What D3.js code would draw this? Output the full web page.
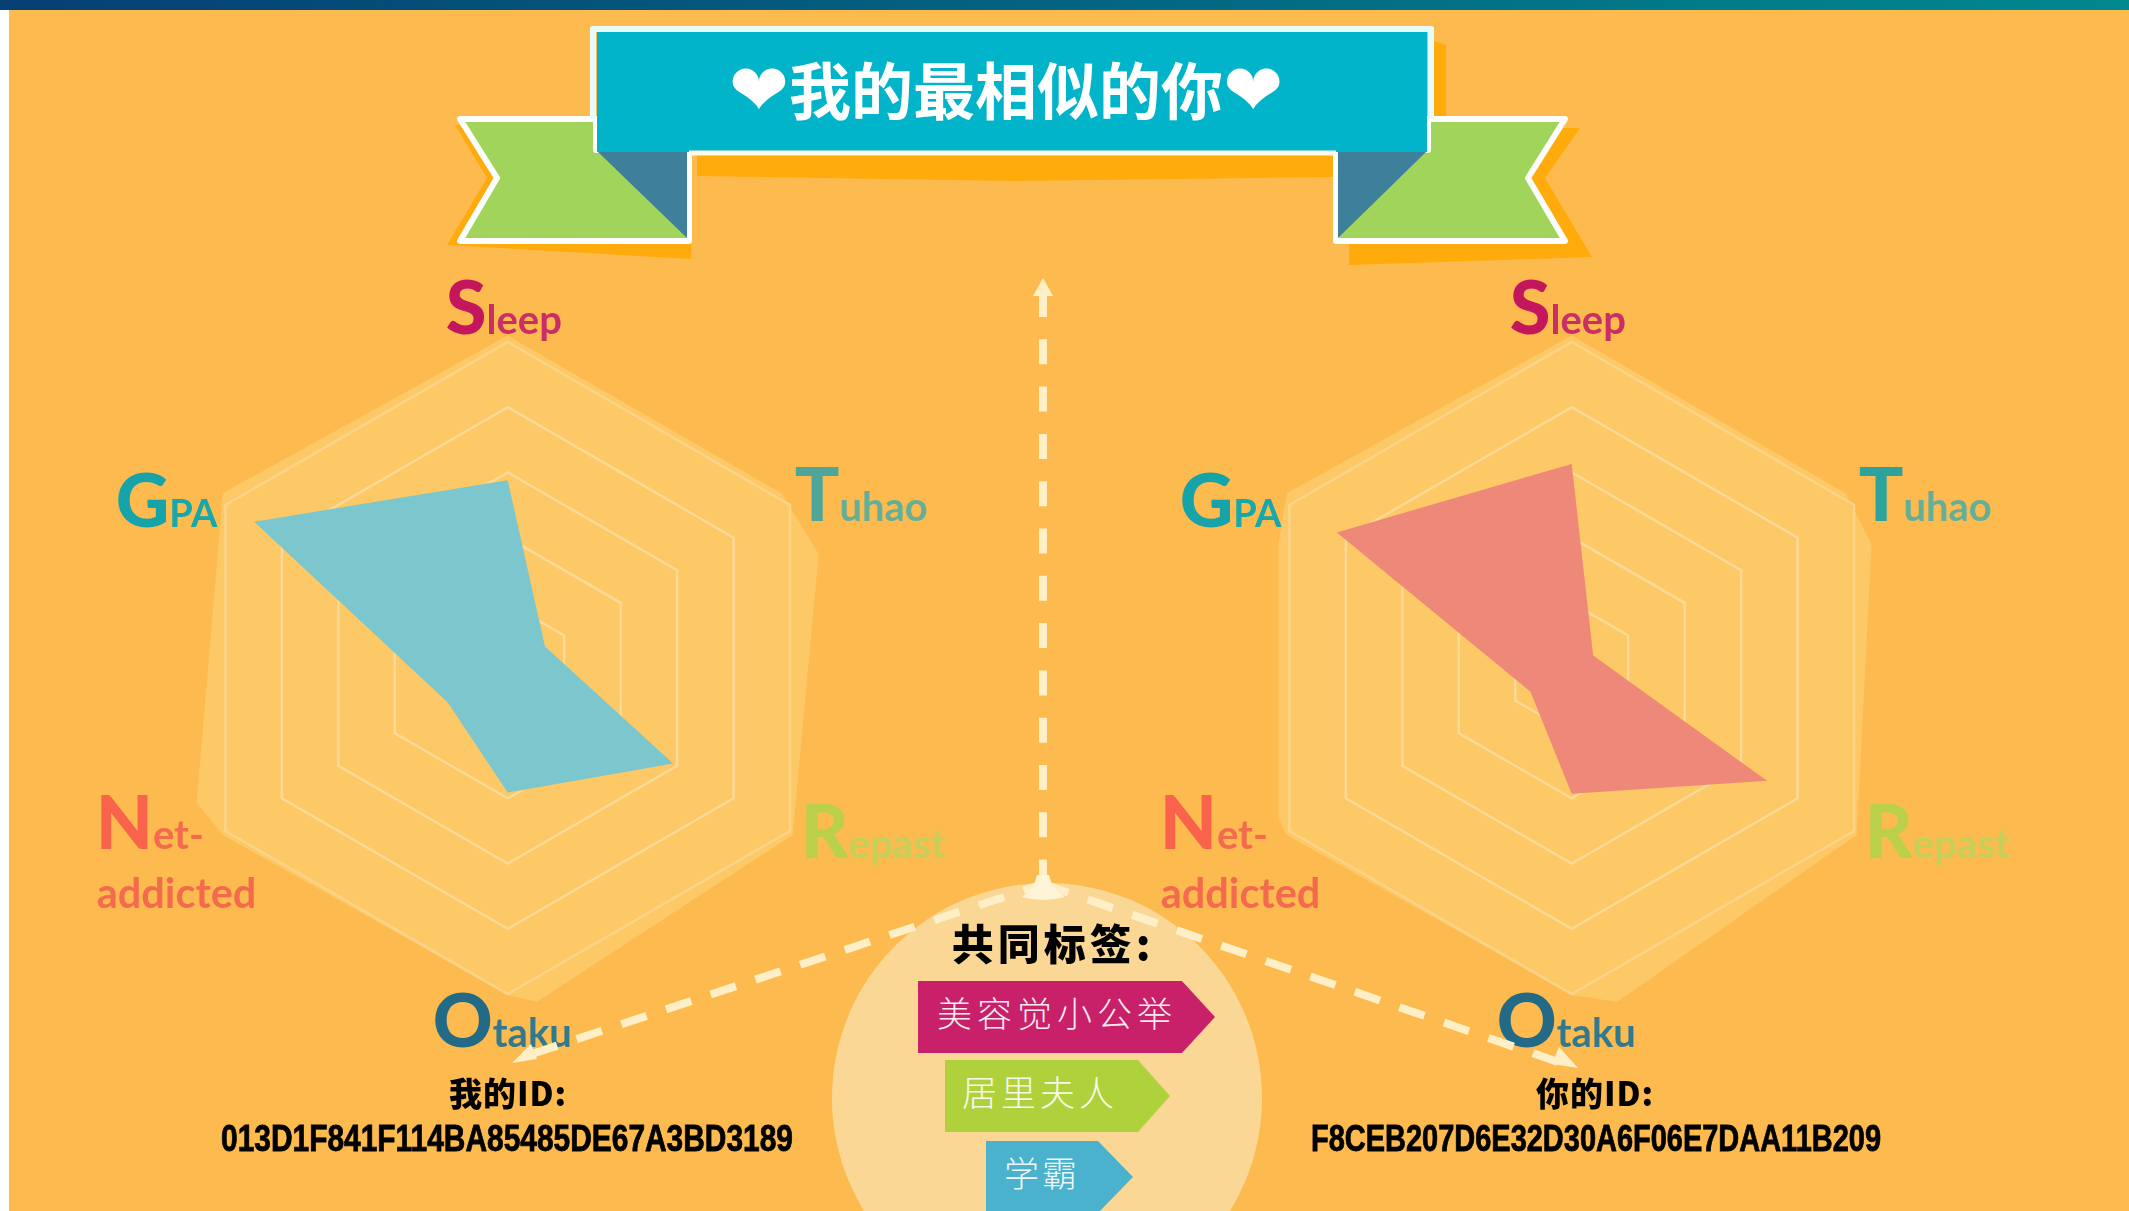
<!DOCTYPE html>
<html>
<head>
<meta charset="utf-8">
<title>我的最相似的你</title>
<script src="https://d3js.org/d3.v7.min.js"></script>
<style>
    html, body { margin: 0; padding: 0; background: white; overflow: hidden; }
    svg { display: block; }
    .cjk { font-family: "Noto Sans CJK SC", sans-serif; }
    .axis-label { font-family: Lato, "Open Sans", sans-serif; font-weight: 700; }
    .id-text { font-family: "Liberation Sans", Arial, sans-serif; font-weight: 700; }
</style>
</head>
<body>
<div id="chart"></div>
<script>
// axes, clockwise from the top
var axis_first = ["S", "T", "R", "O", "N", "G"];
var axis_rest = ["leep", "uhao", "epast", "taku", "et-", "PA"];
var axis_colors = ["#C4185C", "#4FA597", "#BAD04C", "#246A86", "#F9634B", "#12A4AA"];
var axis_rest_colors = ["#C92E66", "#65AE98", "#C6D058", "#31798F", "#F46B4E", "#14A8AA"];

var ring_levels = [1, 2, 3, 4, 5];
var me_values = [2.88, 0.66, 2.93, 1.91, 1.06, 4.49];
var you_values = [3.13, 0.38, 3.46, 1.93, 0.73, 4.16];

// pale sheet behind each radar, in ring units
var me_sheet_x = [0, 4.2, 4.77, 4.37, 0.45, 0, -4.37, -4.77, -4.37];
var me_sheet_y = [-5.1, -2.68, -1.75, 2.56, 5.12, 5.02, 2.56, 2.06, -2.68];
var you_sheet_x = [0, 4.2, 4.6, 4.37, 0.7, 0, -4.37, -4.5, -4.5, -4.37];
var you_sheet_y = [-5.1, -2.68, -1.9, 2.56, 5.12, 5.02, 2.56, 2.3, -1.9, -2.68];

var title_text = "我的最相似的你";
var common_title = "共同标签:";
var tag_names = ["美容觉小公举", "居里夫人", "学霸"];
var tag_colors = ["#C9206A", "#AFD23C", "#4BB2CE"];
var me_id_label = "我的ID:";
var me_id = "013D1F841F114BA85485DE67A3BD3189";
var you_id_label = "你的ID:";
var you_id = "F8CEB207D6E32D30A6F06E7DAA11B209";

var width = 2129, height = 1211;
var bg_color = "#FDBA4F";

var svg = d3.select("#chart").append("svg")
    .attr("width", width)
    .attr("height", height);

var defs = svg.append("defs");
var grad = defs.append("linearGradient").attr("id", "top-bar");
grad.append("stop").attr("offset", "0%").attr("stop-color", "#063F74");
grad.append("stop").attr("offset", "100%").attr("stop-color", "#00898F");
defs.append("filter").attr("id", "soft").append("feGaussianBlur").attr("stdDeviation", 0.7);

svg.append("rect").attr("x", 9).attr("y", 0).attr("width", width - 9).attr("height", height).attr("fill", bg_color);
svg.append("rect").attr("width", width).attr("height", 10).attr("fill", "url(#top-bar)");

function poly(points, fill)
{
    return svg.append("polygon")
        .attr("points", points.map(function(p){ return p.join(","); }).join(" "))
        .attr("fill", fill);
}

function draw_banner()
{
    var shadow = "#FFAB0C", white = "#FFFFFF";
    poly([[455,125],[487,178],[447,245],[691,259],[691,125]], shadow);
    poly([[1580,128],[1545,178],[1592,257],[1349,265],[1349,128]], shadow);
    poly([[697,150],[1334,150],[1334,177],[1015,181],[697,176]], shadow);
    poly([[1431,40],[1446,45],[1446,125],[1431,125]], shadow);

    [[[596,119],[460,119],[497,178],[460,241],[689,241],[689,150],[596,150]],
     [[1428,119],[1565,119],[1528,178],[1565,241],[1336,241],[1336,150],[1428,150]]].forEach(function(p){
        poly(p, "#A0D45A").attr("stroke", white).attr("stroke-width", 6).attr("stroke-linejoin", "round");
    });
    poly([[597,151],[687,151],[687,238]], "#3E7F9C");
    poly([[1427,151],[1338,151],[1338,238]], "#3E7F9C");

    poly([[597,29],[1427,29],[1427,152],[597,152]], "#02B4C9");
    svg.append("path")
        .attr("d", d3.line()([[593,119],[593,29],[1431,29],[1431,119]]))
        .attr("fill", "none").attr("stroke", "#E8FBFB").attr("stroke-width", 6).attr("stroke-linejoin", "round");
    svg.append("path")
        .attr("d", d3.line()([[689,153],[1336,153]]))
        .attr("fill", "none").attr("stroke", "#FDF8E8").attr("stroke-width", 5);

    var title = svg.append("text")
        .attr("class", "cjk")
        .attr("x", 1006).attr("y", 115)
        .attr("text-anchor", "middle")
        .attr("fill", "white")
        .attr("font-size", 62)
        .attr("font-weight", 700);
    title.append("tspan").attr("font-family", "DejaVu Sans").attr("font-size", 72).text("❤");
    title.append("tspan").text(title_text);
    title.append("tspan").attr("font-family", "DejaVu Sans").attr("font-size", 72).text("❤");
}

// label anchors relative to a radar centre
var label_dx = [-62, 287, 293, -75, -412, -392];
var label_dy = [-334, -147, 190, 379, 181, -141];

function draw_radar(cx, cy, values, sheet_x, sheet_y, color, t_colors)
{
    var r = d3.scaleLinear().domain([0, 5]).range([0, 326]);
    var sx = d3.scaleLinear().domain([0, 5]).range([cx, cx + 326]);
    var sy = d3.scaleLinear().domain([0, 5]).range([cy, cy + 326]);
    var g = svg.append("g");

    g.append("path")
        .attr("d", d3.line().x(function(d){ return sx(d); })
                            .y(function(d, i){ return sy(sheet_y[i]); })
                            .curve(d3.curveLinearClosed)(sheet_x))
        .attr("fill", "#FDC866");

    var radial = d3.lineRadial()
        .angle(function(d, i){ return i * Math.PI / 3; })
        .radius(function(d){ return r(d); })
        .curve(d3.curveLinearClosed);

    var rg = g.append("g").attr("transform", "translate(" + cx + "," + cy + ")");
    rg.selectAll(".ring").data(ring_levels).enter().append("path")
        .attr("class", "ring")
        .attr("d", function(level){ return radial(axis_first.map(function(){ return level; })); })
        .attr("fill", "none")
        .attr("stroke", function(level){ return level == 5 ? "#FBD48A" : "#FBD998"; })
        .attr("stroke-width", 2.5);

    rg.append("path")
        .attr("d", radial(values))
        .attr("fill", color);

    axis_first.forEach(function(letter, i){
        var t = g.append("text")
            .attr("class", "axis-label")
            .attr("filter", "url(#soft)")
            .attr("x", cx + label_dx[i])
            .attr("y", cy + label_dy[i]);
        t.append("tspan").attr("font-size", 74).attr("font-weight", 900).attr("fill", t_colors[i]).text(letter);
        t.append("tspan").attr("font-size", i == 5 ? 38 : 40).attr("fill", axis_rest_colors[i]).text(axis_rest[i]);
    });
    g.append("text")
        .attr("class", "axis-label")
        .attr("filter", "url(#soft)")
        .attr("x", cx - 411)
        .attr("y", cy + 240)
        .attr("font-size", 41.5)
        .attr("fill", "#F46B4E")
        .text("addicted");
}

function draw_center()
{
    var line_color = "#FFEFC6";
    svg.append("circle").attr("cx", 1047).attr("cy", 1098).attr("r", 215).attr("fill", "#FBD795");

    var link = d3.line();
    svg.append("path")
        .attr("d", link([[1043,292],[1043,885]]))
        .attr("stroke", line_color).attr("stroke-width", 8)
        .attr("stroke-dasharray", "25 22.3").attr("fill", "none");
    // drawn from the arrow ends so the dashes fall where they do in the picture
    [[[532,1054],[1043,884]], [[1558,1062],[1043,884]]].forEach(function(p){
        svg.append("path")
            .attr("d", link(p))
            .attr("stroke", line_color).attr("stroke-width", 8)
            .attr("stroke-dasharray", "26.5 20.6").attr("fill", "none");
    });
    poly([[1043,278],[1053,296],[1033,296]], line_color);
    poly([[512,1063],[531,1044],[537,1059]], line_color);
    poly([[1578,1068],[1552,1064],[1559,1047]], line_color);
    svg.append("path")
        .attr("d", "M1022,897 Q1034,890 1037,875 L1049,875 Q1052,890 1065,897 Q1043,903 1022,897 Z")
        .attr("fill", "#FFF4D6");

    svg.append("text")
        .attr("class", "cjk")
        .attr("filter", "url(#soft)")
        .attr("x", 1053).attr("y", 960)
        .attr("text-anchor", "middle")
        .attr("font-size", 42).attr("font-weight", 900)
        .attr("letter-spacing", 4)
        .attr("fill", "black")
        .text(common_title);

    var tag_left = [918, 945, 986], tag_body = [1182, 1138, 1098], tag_tip = [1215, 1170, 1133];
    var tag_top = [981, 1060, 1141], tag_h = 72, tag_font = 35;
    var tag_text_x = [937, 962, 1004], tag_space = [40, 39, 38];

    tag_names.forEach(function(name, i){
        var t = tag_top[i], b = t + tag_h;
        poly([[tag_left[i],t],[tag_body[i],t],[tag_tip[i],t + tag_h / 2],[tag_body[i],b],[tag_left[i],b]], tag_colors[i]);
        svg.append("text")
            .attr("class", "cjk")
            .attr("x", tag_text_x[i]).attr("y", t + tag_h / 2 + 10)
            .attr("font-size", tag_font).attr("font-weight", 300)
            .attr("letter-spacing", tag_space[i] - tag_font)
            .attr("fill", "white").attr("fill-opacity", 0.92)
            .text(name);
    });
}

function draw_ids()
{
    [[508, me_id_label, me_id, 221, 572], [1595, you_id_label, you_id, 1311, 570]].forEach(function(d){
        svg.append("text")
            .attr("class", "cjk")
            .attr("filter", "url(#soft)")
            .attr("x", d[0]).attr("y", 1106)
            .attr("text-anchor", "middle")
            .attr("font-size", 33).attr("font-weight", 900)
            .attr("letter-spacing", 1)
            .attr("fill", "black")
            .text(d[1]);
        svg.append("text")
            .attr("class", "id-text")
            .attr("filter", "url(#soft)")
            .attr("x", d[3]).attr("y", 1151)
            .attr("font-size", 36)
            .attr("textLength", d[4])
            .attr("lengthAdjust", "spacingAndGlyphs")
            .attr("fill", "black")
            .attr("stroke", "black").attr("stroke-width", 0.8)
            .text(d[2]);
    });
}

var you_t_colors = axis_colors.slice();
you_t_colors[1] = "#2FA39E";

draw_banner();
draw_radar(507.7, 668, me_values, me_sheet_x, me_sheet_y, "#7CC6CE", axis_colors);
draw_radar(1571.7, 668, you_values, you_sheet_x, you_sheet_y, "#EE8878", you_t_colors);
draw_center();
draw_ids();
</script>
</body>
</html>
